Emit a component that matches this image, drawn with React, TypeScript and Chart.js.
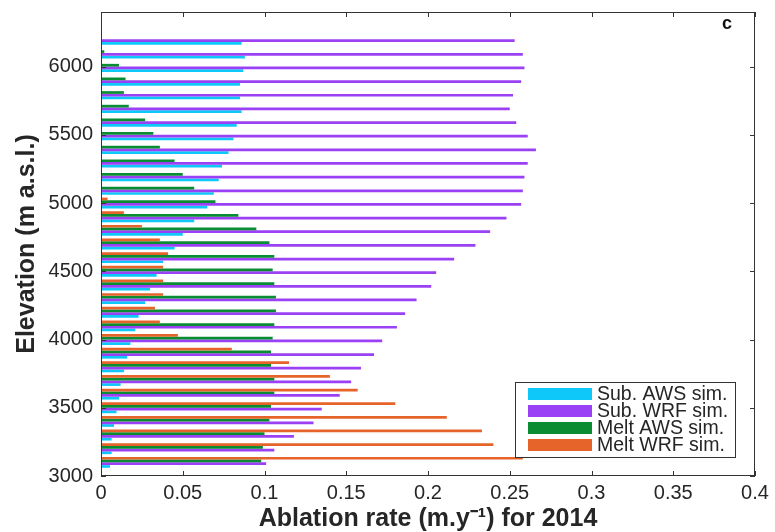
import { useEffect, useRef } from 'react';
import { Chart, registerables } from 'chart.js';
Chart.register(...registerables);

// Elevation bands (m a.s.l.), bottom to top
const elevations = [3100, 3200, 3300, 3400, 3500, 3600, 3700, 3800, 3900, 4000, 4100, 4200, 4300, 4400, 4500, 4600, 4700, 4800, 4900, 5000, 5100, 5200, 5300, 5400, 5500, 5600, 5700, 5800, 5900, 6000, 6100, 6200];

// Ablation rates (m/y) for 2014
const subAWS = [0.0055, 0.0065, 0.0065, 0.008, 0.0095, 0.011, 0.012, 0.014, 0.016, 0.018, 0.021, 0.023, 0.027, 0.030, 0.034, 0.038, 0.045, 0.050, 0.057, 0.065, 0.069, 0.072, 0.074, 0.078, 0.081, 0.083, 0.086, 0.085, 0.085, 0.087, 0.088, 0.086];
const subWRF = [0.101, 0.106, 0.118, 0.130, 0.135, 0.146, 0.153, 0.159, 0.167, 0.172, 0.181, 0.186, 0.193, 0.202, 0.205, 0.216, 0.229, 0.238, 0.248, 0.257, 0.258, 0.259, 0.261, 0.266, 0.261, 0.254, 0.250, 0.252, 0.257, 0.259, 0.258, 0.253];
const meltAWS = [0.098, 0.099, 0.100, 0.103, 0.104, 0.106, 0.106, 0.104, 0.104, 0.105, 0.106, 0.107, 0.107, 0.106, 0.105, 0.106, 0.103, 0.095, 0.084, 0.070, 0.057, 0.050, 0.045, 0.036, 0.032, 0.027, 0.017, 0.014, 0.015, 0.011, 0.002, 0];
const meltWRF = [0.258, 0.240, 0.233, 0.2115, 0.180, 0.157, 0.140, 0.115, 0.080, 0.047, 0.036, 0.033, 0.038, 0.038, 0.038, 0.041, 0.036, 0.025, 0.014, 0.004, 0, 0, 0, 0, 0, 0, 0, 0, 0, 0, 0, 0];

const seriesNames = ['Sub. AWS sim.', 'Sub. WRF sim.', 'Melt AWS sim.', 'Melt WRF sim.'];
const seriesColors = ['#0fc8fa', '#9b41f5', '#0a8c32', '#e6642a'];

const xTicks = [0, 0.05, 0.1, 0.15, 0.2, 0.25, 0.3, 0.35, 0.4];
const xTickLabels = ['0', '0.05', '0.1', '0.15', '0.2', '0.25', '0.3', '0.35', '0.4'];
const yTicks = [3000, 3500, 4000, 4500, 5000, 5500, 6000];
const yTickLabels = ['3000', '3500', '4000', '4500', '5000', '5500', '6000'];

const FONT = '"Liberation Sans", Arial, Helvetica, sans-serif';
const AXIS_COLOR = '#333333';
const TEXT_COLOR = '#262626';

const framePlugin = {
  id: 'frame',
  afterDatasetsDraw(chart: any) {
    const { ctx, chartArea } = chart;
    const { left, right, top, bottom } = chartArea;
    const xs = chart.scales.x;
    const ys = chart.scales.y;
    ctx.save();
    ctx.strokeStyle = AXIS_COLOR;
    ctx.lineWidth = 1;
    ctx.strokeRect(left + 0.5, top + 0.5, right - left - 1, bottom - top - 1);
    const tl = 5;
    ctx.beginPath();
    xTicks.forEach((v) => {
      const px = Math.round(xs.getPixelForValue(v)) + 0.5;
      ctx.moveTo(px, bottom);
      ctx.lineTo(px, bottom - tl);
      ctx.moveTo(px, top);
      ctx.lineTo(px, top + tl);
    });
    yTicks.forEach((v) => {
      const py = Math.round(ys.getPixelForValue(v)) + 0.5;
      ctx.moveTo(left, py);
      ctx.lineTo(left + tl, py);
      ctx.moveTo(right, py);
      ctx.lineTo(right - tl, py);
    });
    ctx.stroke();

    // panel letter
    ctx.fillStyle = '#111';
    ctx.font = `bold 18px ${FONT}`;
    ctx.textAlign = 'center';
    ctx.textBaseline = 'middle';
    ctx.fillText('c', right - 28, top + 12);

    // legend
    const bw = 220, bh = 75;
    const bx = right - 20 - bw;
    const by = bottom - 19 - bh;
    ctx.fillStyle = '#ffffff';
    ctx.fillRect(bx, by, bw, bh);
    ctx.strokeStyle = AXIS_COLOR;
    ctx.lineWidth = 1;
    ctx.strokeRect(Math.round(bx) + 0.5, Math.round(by) + 0.5, bw, bh);
    ctx.font = `19.5px ${FONT}`;
    ctx.textAlign = 'left';
    ctx.textBaseline = 'middle';
    seriesNames.forEach((name, i) => {
      const cy = by + 12 + i * 17;
      ctx.fillStyle = seriesColors[i];
      ctx.fillRect(bx + 13, cy - 6, 64, 12);
      ctx.fillStyle = TEXT_COLOR;
      ctx.fillText(name, bx + 82, cy + 1);
    });
    ctx.restore();
  },
};

export default function App() {
  const ref = useRef<HTMLCanvasElement>(null);
  useEffect(() => {
    const toPts = (arr: number[]) => arr.map((v, i) => ({ x: v, y: elevations[i] }));
    // dataset order: first dataset is drawn at the top of each group
    const order = [3, 2, 1, 0];
    const seriesData = [subAWS, subWRF, meltAWS, meltWRF];
    const chart = new Chart(ref.current as HTMLCanvasElement, {
      type: 'bar',
      data: {
        datasets: order.map((k) => ({
          label: seriesNames[k],
          data: toPts(seriesData[k]),
          backgroundColor: seriesColors[k],
          borderWidth: 0,
          categoryPercentage: 0.8,
          barPercentage: 1.0,
        })),
      },
      options: {
        indexAxis: 'y',
        responsive: false,
        animation: false,
        layout: { padding: { left: 0, top: 12, right: 20, bottom: 0 } },
        plugins: { legend: { display: false }, tooltip: { enabled: false } },
        scales: {
          x: {
            type: 'linear',
            min: 0,
            max: 0.4,
            offset: false,
            grid: { display: false, drawTicks: false },
            border: { display: false },
            afterBuildTicks: (s: any) => { s.ticks = xTicks.map((v) => ({ value: v })); },
            afterFit: (s: any) => { s.height = 56; s.paddingLeft = 0; s.paddingRight = 0; },
            ticks: {
              callback: (_v: any, i: number) => xTickLabels[i],
              font: { family: FONT, size: 20 },
              color: TEXT_COLOR,
              padding: 5,
              maxRotation: 0,
              autoSkip: false,
            },
            title: {
              display: true,
              text: 'Ablation rate (m.y⁻¹) for 2014',
              font: { family: FONT, size: 25, weight: 'bold', lineHeight: 1 },
              color: TEXT_COLOR,
              padding: { top: 0, bottom: 0.5 },
            },
          },
          y: {
            type: 'linear',
            min: 3000,
            max: 6400,
            offset: false,
            grid: { display: false, drawTicks: false },
            border: { display: false },
            afterBuildTicks: (s: any) => { s.ticks = yTicks.map((v) => ({ value: v })); },
            afterFit: (s: any) => { s.width = 101; s.paddingTop = 0; s.paddingBottom = 0; },
            ticks: {
              callback: (_v: any, i: number) => yTickLabels[i],
              font: { family: FONT, size: 20 },
              color: TEXT_COLOR,
              padding: 8,
              autoSkip: false,
            },
            title: {
              display: true,
              text: 'Elevation (m a.s.l.)',
              font: { family: FONT, size: 25, weight: 'bold', lineHeight: 1 },
              color: TEXT_COLOR,
              padding: { top: 14.5, bottom: 0 },
            },
          },
        },
      } as any,
      plugins: [framePlugin],
    });
    return () => chart.destroy();
  }, []);
  return (
    <div style={{ position: 'absolute', left: 0, top: 0, width: 775, height: 532, background: '#fff' }}>
      <canvas ref={ref} width={775} height={532} style={{ width: 775, height: 532, display: 'block' }} />
    </div>
  );
}
